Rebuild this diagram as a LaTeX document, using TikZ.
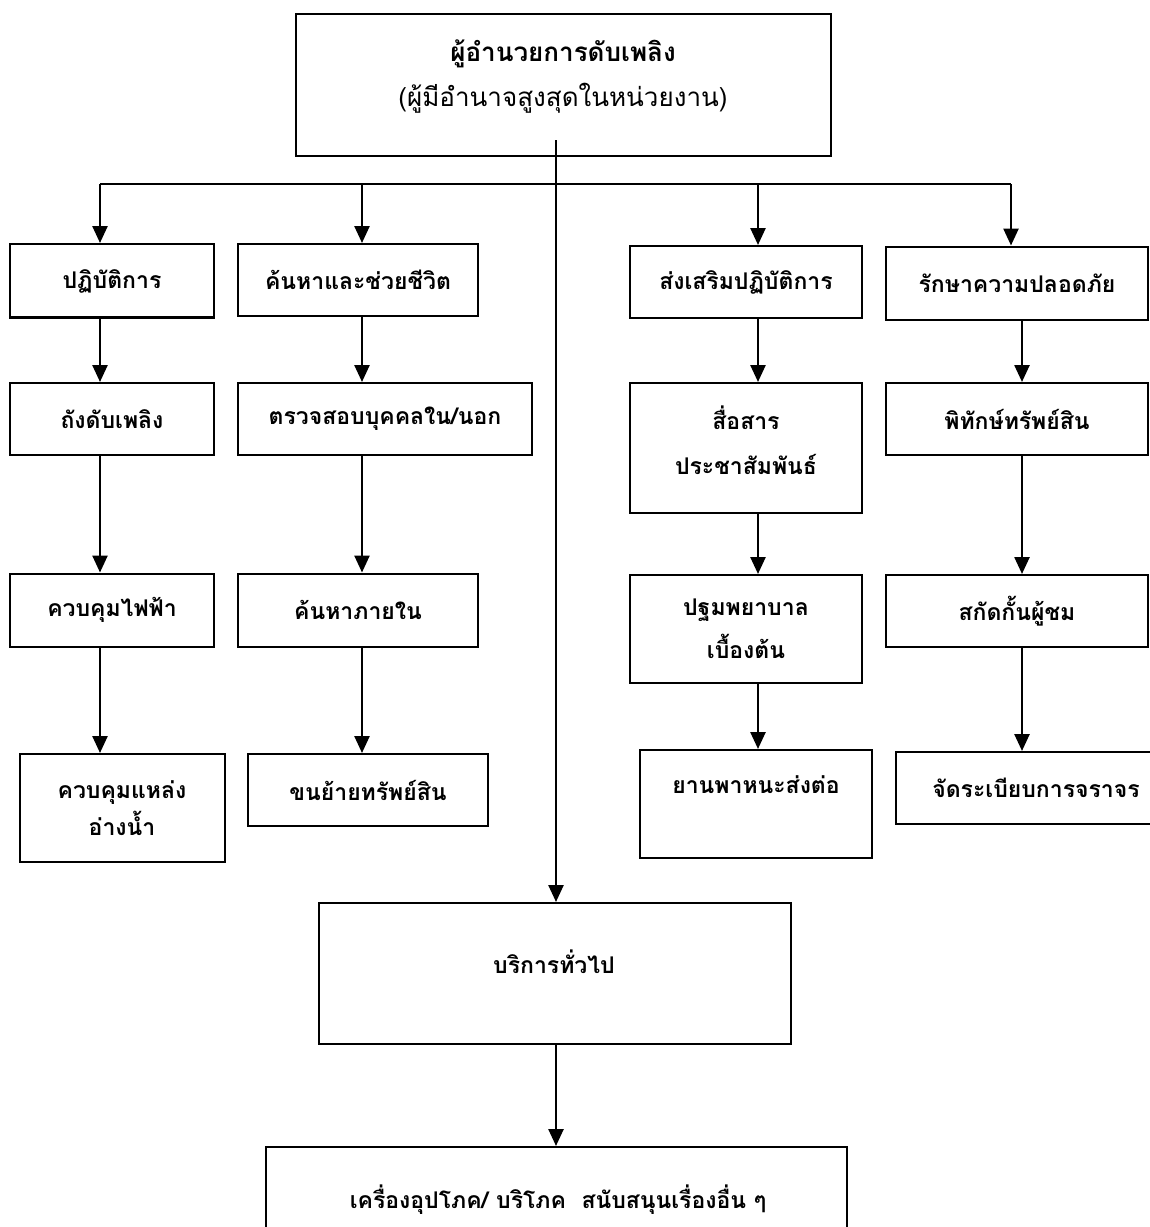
\documentclass[tikz,border=0pt]{standalone}
\usepackage{fontspec}
\newfontfamily\thaifont[Script=Thai]{Loma}
\usetikzlibrary{arrows.meta}

\begin{document}
\begin{tikzpicture}
  [x=1pt,y=-1pt,
   every node/.style={font=\thaifont\bfseries\fontsize{23}{30}\selectfont},
   box/.style={draw,line width=2pt,rectangle,inner sep=0pt},
   arr/.style={line width=2.5pt,-{Triangle[length=17pt,width=15pt]}}]
\useasboundingbox (0,0) rectangle (1150,1227);
\clip (0,0) rectangle (1150,1227);

% top box
\node[box,minimum width=535pt,minimum height=142pt] (chief) at (563.5,85) {};
\node (chieft) at (563,77) [align=center,font=\thaifont\fontsize{26}{45}\selectfont]
  {{\bfseries ผู้อำนวยการดับเพลิง}\\(ผู้มีอำนาจสูงสุดในหน่วยงาน)};

% row 1
\node[box,minimum width=204pt,minimum height=74pt] (ops) at (112,281) {ปฏิบัติการ};
\node[box,minimum width=240pt,minimum height=72pt] (rescue) at (358,280) {ค้นหาและช่วยชีวิต};
\node[box,minimum width=232pt,minimum height=72pt] (support) at (746,282) {ส่งเสริมปฏิบัติการ};
\node[box,minimum width=262pt,minimum height=73pt] (security) at (1017,283) {รักษาความปลอดภัย};
\draw[line width=1pt] ([yshift=3pt]ops.south west) -- ([yshift=3pt]ops.south east);

% row 2
\node[box,minimum width=204pt,minimum height=72pt] (tank) at (112,419) {ถังดับเพลิง};
\node[box,minimum width=294pt,minimum height=72pt] (check) at (385,419) {ตรวจสอบบุคคลใน/นอก};
\node[box,minimum width=232pt,minimum height=130pt] (comm) at (746,448) {};
\node (commt) at (746,440) [align=center,font=\thaifont\bfseries\fontsize{23}{45}\selectfont] {สื่อสาร\\ประชาสัมพันธ์};
\node[box,minimum width=262pt,minimum height=72pt] (guard) at (1017,419) {พิทักษ์ทรัพย์สิน};

% row 3
\node[box,minimum width=204pt,minimum height=73pt] (power) at (112,610) {ควบคุมไฟฟ้า};
\node[box,minimum width=240pt,minimum height=73pt] (search) at (358,610) {ค้นหาภายใน};
\node[box,minimum width=232pt,minimum height=108pt,align=center,
  font=\thaifont\bfseries\fontsize{23}{43}\selectfont] (firstaid) at (746,629) {ปฐมพยาบาล\\เบื้องต้น};
\node[box,minimum width=262pt,minimum height=72pt] (block) at (1017,611) {สกัดกั้นผู้ชม};

% row 4
\node[box,minimum width=205pt,minimum height=108pt,align=center,
  font=\thaifont\bfseries\fontsize{23}{37}\selectfont] (water) at (122,808) {ควบคุมแหล่ง\\อ่างน้ำ};
\node[box,minimum width=240pt,minimum height=72pt] (move) at (368,790) {ขนย้ายทรัพย์สิน};
\node[box,minimum width=232pt,minimum height=108pt] (ambulance) at (756,804) {};
\node (ambulancet) at (756,785) {ยานพาหนะส่งต่อ};
\node[box,minimum width=280pt,minimum height=72pt] (traffic) at (1036,788) {จัดระเบียบการจราจร};

% bottom
\node[box,minimum width=472pt,minimum height=141pt] (service) at (555,973.5) {};
\node (servicet) at (554,962) {บริการทั่วไป};
\node[box,minimum width=581pt,minimum height=160pt] (goods) at (556.5,1227) {};
\node (goodst) at (558,1200) {เครื่องอุปโภค/ บริโภค\ \ สนับสนุนเรื่องอื่น ๆ};

% bus and trunk
\coordinate (t0) at (556,140);
\coordinate (b1) at (100,184);
\coordinate (b2) at (362,184);
\coordinate (b3) at (758,184);
\coordinate (b4) at (1011,184);
\draw[line width=2pt] (b1) -- (b4);
\draw[arr] (t0) -- (t0 |- service.north);
\draw[arr] (service.south -| t0) -- (t0 |- goods.north);

\foreach \c/\n in {b1/ops,b2/rescue,b3/support,b4/security}
  \draw[arr] (\c) -- (\c |- \n.north);

\foreach \x/\a/\b in {100/ops/tank,362/rescue/check,758/support/comm,1022/security/guard,
  100/tank/power,362/check/search,758/comm/firstaid,1022/guard/block,
  100/power/water,362/search/move,758/firstaid/ambulance,1022/block/traffic}
  \draw[arr] (\x,0 |- \a.south) -- (\x,0 |- \b.north);
\end{tikzpicture}
\end{document}
